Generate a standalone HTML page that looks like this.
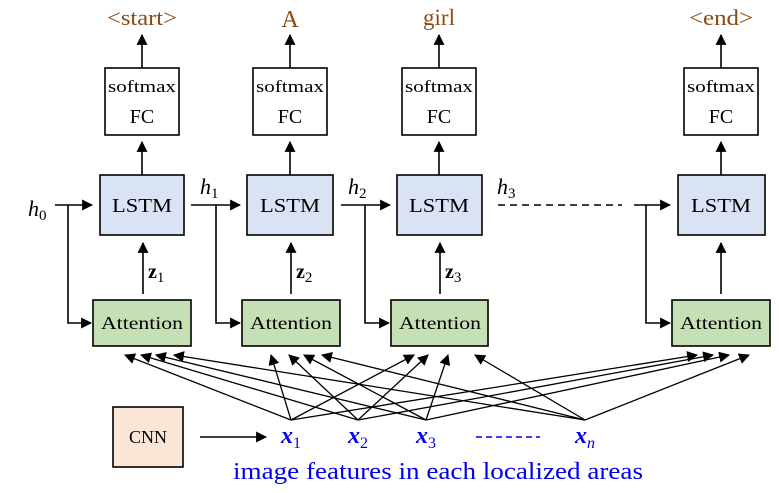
<!DOCTYPE html>
<html><head><style>
html,body{margin:0;padding:0;background:#fff;}
svg{display:block;}
text{font-family:"Liberation Serif",serif;}
</style></head><body>
<svg width="779" height="493" viewBox="0 0 779 493" xmlns="http://www.w3.org/2000/svg">
<defs>
<marker id="a" viewBox="0 0 10 10" refX="9" refY="5" markerWidth="11" markerHeight="11" markerUnits="userSpaceOnUse" orient="auto"><path d="M0,0 L10,5 L0,10 z" fill="#000"/></marker>
</defs>
<g stroke="#000" stroke-width="1.6" fill="none">
<rect x="105" y="68" width="74" height="67" fill="#fff"/>
<rect x="253" y="68" width="74" height="67" fill="#fff"/>
<rect x="402" y="68" width="74" height="67" fill="#fff"/>
<rect x="684" y="68" width="74" height="67" fill="#fff"/>
<rect x="100" y="175" width="84" height="60" fill="#dae3f3"/>
<rect x="247" y="175" width="86" height="60" fill="#dae3f3"/>
<rect x="397" y="175" width="85" height="60" fill="#dae3f3"/>
<rect x="678" y="175" width="87" height="60" fill="#dae3f3"/>
<rect x="93" y="300" width="98" height="46" fill="#c5e0b4"/>
<rect x="242" y="300" width="98" height="46" fill="#c5e0b4"/>
<rect x="391" y="300" width="97" height="46" fill="#c5e0b4"/>
<rect x="672" y="300" width="98" height="46" fill="#c5e0b4"/>
<rect x="113" y="407" width="70" height="60" fill="#fbe5d6"/>
</g>
<g stroke="#000" stroke-width="1.6" fill="none" marker-end="url(#a)">
<line x1="142" y1="68" x2="142" y2="35"/>
<line x1="290" y1="68" x2="290" y2="35"/>
<line x1="439" y1="68" x2="439" y2="35"/>
<line x1="721" y1="68" x2="721" y2="35"/>
<line x1="142" y1="175" x2="142" y2="142"/>
<line x1="290" y1="175" x2="290" y2="142"/>
<line x1="439" y1="175" x2="439" y2="142"/>
<line x1="721" y1="175" x2="721" y2="142"/>
<line x1="143" y1="294" x2="143" y2="243"/>
<line x1="291" y1="294" x2="291" y2="243"/>
<line x1="440" y1="294" x2="440" y2="243"/>
<line x1="721" y1="294" x2="721" y2="243"/>
<line x1="55" y1="205" x2="92" y2="205"/>
<line x1="191" y1="205" x2="240" y2="205"/>
<line x1="341" y1="205" x2="390" y2="205"/>
<line x1="634" y1="205" x2="670" y2="205"/>
<polyline points="68,205 68,323 91,323"/>
<polyline points="216,205 216,323 240,323"/>
<polyline points="365,205 365,323 389,323"/>
<polyline points="646,205 646,323 670,323"/>
<line x1="200" y1="437" x2="266" y2="437"/>
</g>
<line x1="498" y1="205" x2="622" y2="205" stroke="#000" stroke-width="1.6" stroke-dasharray="7,5"/>
<g stroke="#000" stroke-width="1.3" fill="none" marker-end="url(#a)">
<line x1="291" y1="420" x2="125" y2="355"/><line x1="358" y1="420" x2="141" y2="355"/><line x1="426" y1="420" x2="156" y2="355"/><line x1="585" y1="420" x2="174" y2="355"/>
<line x1="291" y1="420" x2="271" y2="355"/><line x1="358" y1="420" x2="289" y2="355"/><line x1="426" y1="420" x2="304" y2="355"/><line x1="585" y1="420" x2="322" y2="355"/>
<line x1="291" y1="420" x2="414" y2="355"/><line x1="358" y1="420" x2="428" y2="355"/><line x1="426" y1="420" x2="448" y2="355"/><line x1="585" y1="420" x2="475" y2="355"/>
<line x1="291" y1="420" x2="697" y2="355"/><line x1="358" y1="420" x2="713" y2="355"/><line x1="426" y1="420" x2="729" y2="355"/><line x1="585" y1="420" x2="749" y2="355"/>
</g>
<g font-size="19" fill="#000" text-anchor="middle">
<text x="142" y="92" font-size="17" textLength="68" lengthAdjust="spacingAndGlyphs">softmax</text><text x="142" y="123" font-size="20">FC</text>
<text x="290" y="92" font-size="17" textLength="68" lengthAdjust="spacingAndGlyphs">softmax</text><text x="290" y="123" font-size="20">FC</text>
<text x="439" y="92" font-size="17" textLength="68" lengthAdjust="spacingAndGlyphs">softmax</text><text x="439" y="123" font-size="20">FC</text>
<text x="721" y="92" font-size="17" textLength="68" lengthAdjust="spacingAndGlyphs">softmax</text><text x="721" y="123" font-size="20">FC</text>
<text x="142" y="212" font-size="20" textLength="60" lengthAdjust="spacingAndGlyphs">LSTM</text><text x="290" y="212" font-size="20" textLength="60" lengthAdjust="spacingAndGlyphs">LSTM</text><text x="439" y="212" font-size="20" textLength="60" lengthAdjust="spacingAndGlyphs">LSTM</text><text x="721" y="212" font-size="20" textLength="60" lengthAdjust="spacingAndGlyphs">LSTM</text>
<text x="142" y="329" font-size="18" textLength="82" lengthAdjust="spacingAndGlyphs">Attention</text><text x="291" y="329" font-size="18" textLength="82" lengthAdjust="spacingAndGlyphs">Attention</text><text x="440" y="329" font-size="18" textLength="82" lengthAdjust="spacingAndGlyphs">Attention</text><text x="721" y="329" font-size="18" textLength="82" lengthAdjust="spacingAndGlyphs">Attention</text>
<text x="148" y="443" font-size="18">CNN</text>
</g>
<g font-size="22" fill="#8b4a12" text-anchor="middle">
<text x="142" y="25" textLength="70" lengthAdjust="spacingAndGlyphs">&lt;start&gt;</text><text x="290" y="27" font-size="24">A</text><text x="439" y="25" font-size="23">girl</text><text x="721" y="25" textLength="64" lengthAdjust="spacingAndGlyphs">&lt;end&gt;</text>
</g>
<g font-size="22" font-style="italic" fill="#000">
<text x="28" y="216">h<tspan font-size="15" font-style="normal" dy="4">0</tspan></text>
<text x="200" y="194">h<tspan font-size="15" font-style="normal" dy="4">1</tspan></text>
<text x="348" y="194">h<tspan font-size="15" font-style="normal" dy="4">2</tspan></text>
<text x="497" y="194">h<tspan font-size="15" font-style="normal" dy="4">3</tspan></text>
</g>
<g font-size="20" font-weight="bold" fill="#000">
<text x="148" y="278">z<tspan font-size="15" font-weight="normal" dy="4">1</tspan></text>
<text x="296" y="278">z<tspan font-size="15" font-weight="normal" dy="4">2</tspan></text>
<text x="445" y="278">z<tspan font-size="15" font-weight="normal" dy="4">3</tspan></text>
</g>
<g font-size="24" font-weight="bold" font-style="italic" fill="#0000ee">
<text x="281" y="443">x<tspan font-size="16" font-weight="normal" font-style="normal" dy="5">1</tspan></text>
<text x="348" y="443">x<tspan font-size="16" font-weight="normal" font-style="normal" dy="5">2</tspan></text>
<text x="416" y="443">x<tspan font-size="16" font-weight="normal" font-style="normal" dy="5">3</tspan></text>
<text x="575" y="443">x<tspan font-size="16" font-weight="normal" font-style="italic" dy="5">n</tspan></text>
</g>
<line x1="476" y1="437" x2="540" y2="437" stroke="#0000ee" stroke-width="1.5" stroke-dasharray="6,4"/>
<text x="438" y="479" font-size="24" fill="#0000ee" text-anchor="middle" textLength="410" lengthAdjust="spacingAndGlyphs">image features in each localized areas</text>
</svg>
</body></html>
